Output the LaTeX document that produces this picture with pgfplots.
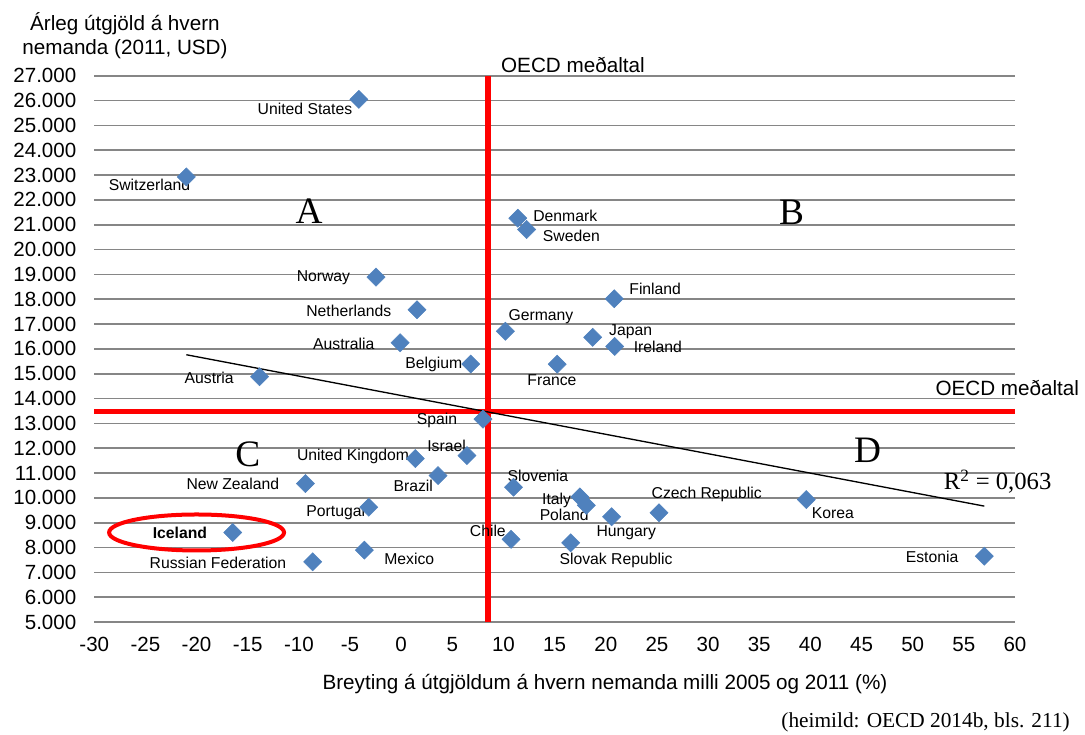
\documentclass[border=0pt]{standalone}
\usepackage{fontspec}
\setmainfont{Liberation Sans}
\newfontfamily\serif{Liberation Serif}
\usepackage{pgfplots}
\pgfplotsset{compat=1.18}
\definecolor{mk}{HTML}{4F81BD}
\definecolor{grd}{HTML}{868686}
\definecolor{oecdred}{HTML}{FF0000}

\pgfplotstableread{
x y
-21.0 22925
-4.14 26048
-2.46 18890
1.55 17576
-0.10 16247
6.80 15389
-13.84 14879
8.0 13170
6.43 11702
1.38 11582
3.60 10898
-9.36 10576
-3.17 9625
-16.46 8606
-3.60 7895
-8.65 7426
10.74 8330
10.98 10430
17.47 10040
18.1 9700
20.57 9240
25.2 9400
39.6 9930
57.0 7650
16.57 8190
15.25 15385
11.4 21263
12.26 20807
20.83 18019
10.19 16710
18.72 16464
20.87 16100
}\countries

\begin{document}
\begin{tikzpicture}[
  lab/.style={font=\fontsize{11.8}{14}\selectfont, inner sep=0pt},
  big/.style={font=\fontsize{28}{30}\serif, inner sep=0pt},
]
\useasboundingbox (-70.7pt,-84pt) rectangle (743pt,466.5pt);
\begin{axis}[
  at={(0pt,0pt)}, anchor=south west,
  scale only axis, width=690.5pt, height=409.7pt,
  xmin=-30, xmax=60, ymin=5000, ymax=27000,
  xtick={-30,-25,...,60}, ytick={5000,6000,...,27000},
  ymajorgrids, grid style={grd, line width=1.3pt},
  axis line style={draw=none}, major tick length=0pt,
  scaled y ticks=false, scaled x ticks=false,
  /pgf/number format/assume math mode=true,
  /pgf/number format/1000 sep={.},
  ticklabel style={font=\fontsize{15.4}{18}\selectfont},
  xticklabel style={yshift=-8pt},
  yticklabel style={xshift=-10pt},
  clip=false,
]
\addplot[only marks, mark=square*, mark size=4.8pt,
  mark options={rotate=45, fill=mk, draw=mk}] table {\countries};

\addplot[oecdred, line width=4pt] coordinates {(8.5,5000) (8.5,27000)};
\addplot[oecdred, line width=4pt] coordinates {(-30,13470) (60,13470)};
\addplot[black, line width=1pt] coordinates {(-21,15764) (57,9668)};

\draw[oecdred, line width=3pt] (axis cs:-20,8606) ellipse [x radius=65.6pt, y radius=13.5pt];

\node[lab] at (axis cs:-9.41,25646) {United States};
\node[lab] at (axis cs:-24.6,22590) {Switzerland};
\node[lab] at (axis cs:-7.6,18850) {Norway};
\node[lab] at (axis cs:-5.12,17550) {Netherlands};
\node[lab] at (axis cs:-5.61,16220) {Australia};
\node[lab] at (axis cs:3.18,15375) {Belgium};
\node[lab] at (axis cs:-18.77,14850) {Austria};
\node[lab] at (axis cs:3.50,13137) {Spain};
\node[lab] at (axis cs:4.44,12105) {Israel};
\node[lab] at (axis cs:-4.71,11676) {United Kingdom};
\node[lab] at (axis cs:1.18,10496) {Brazil};
\node[lab] at (axis cs:-16.45,10563) {New Zealand};
\node[lab, font=\fontsize{11.8}{14}\selectfont\bfseries] at (axis cs:-21.63,8592) {Iceland};
\node[lab] at (axis cs:-6.40,9424) {Portugal};
\node[lab] at (axis cs:-17.91,7386) {Russian Federation};
\node[lab] at (axis cs:0.79,7533) {Mexico};
\node[lab] at (axis cs:8.47,8660) {Chile};
\node[lab] at (axis cs:13.36,10885) {Slovenia};
\node[lab] at (axis cs:15.19,9906) {Italy};
\node[lab] at (axis cs:15.94,9330) {Poland};
\node[lab] at (axis cs:29.87,10134) {Czech Republic};
\node[lab] at (axis cs:42.19,9370) {Korea};
\node[lab] at (axis cs:22.0,8592) {Hungary};
\node[lab] at (axis cs:21.0,7493) {Slovak Republic};
\node[lab] at (axis cs:51.89,7627) {Estonia};
\node[lab] at (axis cs:14.74,14732) {France};
\node[lab] at (axis cs:16.04,21343) {Denmark};
\node[lab] at (axis cs:16.64,20539) {Sweden};
\node[lab] at (axis cs:24.83,18407) {Finland};
\node[lab] at (axis cs:13.66,17282) {Germany};
\node[lab] at (axis cs:22.43,16705) {Japan};
\node[lab] at (axis cs:25.09,16075) {Ireland};

\node[font=\fontsize{15.5}{18}\selectfont, inner sep=0pt] at (axis cs:16.79,27442) {OECD meðaltal};
\node[font=\fontsize{15.5}{18}\selectfont, inner sep=0pt] at (axis cs:59.25,14437) {OECD meðaltal};
\node[font=\fontsize{18.5}{20}\serif, inner sep=0pt] at (axis cs:58.3,10643) {R\textsuperscript{2} = 0,063};

\node[big] at (axis cs:-9.0,21530) {A};
\node[big] at (axis cs:38.15,21500) {B};
\node[big] at (axis cs:-15.0,11770) {C};
\node[big] at (axis cs:45.6,11917) {D};
\end{axis}

\node[font=\fontsize{15.5}{18}\selectfont, align=center, inner sep=0pt] at (23pt,440pt) {Árleg útgjöld á hvern\\nemanda (2011, USD)};
\node[font=\fontsize{15.5}{18}\selectfont, inner sep=0pt] at (383pt,-46.5pt) {Breyting á útgjöldum á hvern nemanda milli 2005 og 2011 (\%)};
\node[font=\fontsize{16}{18}\serif, inner sep=0pt, anchor=east] at (731.8pt,-75pt) {(heimild: OECD 2014b, bls. 211)};
\end{tikzpicture}
\end{document}
